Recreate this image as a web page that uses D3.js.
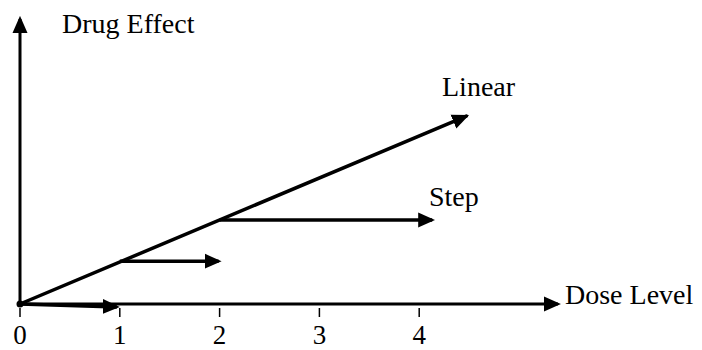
<!DOCTYPE html>
<html>
<head>
<meta charset="utf-8">
<script src="https://cdn.jsdelivr.net/npm/d3@7"></script>
<style>
  body { margin: 0; background: #fff; }
  svg text { font-family: 'Liberation Serif', 'Times New Roman', Times, serif; fill: #000; }
</style>
</head>
<body>
<svg width="702" height="350"></svg>
<script>
// Values (dose units on x, effect units on y)
var xTicks = [0, 1, 2, 3, 4];
var linearDose = [0, 4.5];
var linearEffect = [0, 4.5];
var stepStart = [0, 1, 2];
var stepEnd = [1, 2.02, 4.16];
var stepLevel = [0, 1.02, 2];
var stepEndLevel = [-0.07, 1.02, 2];
var xAxisEnd = 5.42;
var yAxisEnd = 6.86;

var svg = d3.select('svg');
var serif = "'Liberation Serif', 'Times New Roman', Times, serif";

var x = d3.scaleLinear().domain([0, 5]).range([20, 519]);
var y = d3.scaleLinear().domain([0, 5]).range([304, 94]);

// arrowhead marker, tip sticks out a few px past the line end
var defs = svg.append('defs');
defs.append('marker')
    .attr('id', 'arrow')
    .attr('viewBox', '0 -8 17 16')
    .attr('refX', 14)
    .attr('refY', 0)
    .attr('markerWidth', 17)
    .attr('markerHeight', 16)
    .attr('markerUnits', 'userSpaceOnUse')
    .attr('orient', 'auto')
  .append('path')
    .attr('d', 'M0,-7.5L17,0L0,7.5Z')
    .attr('fill', '#000');

var tip = 3; // px the arrow tip extends past the line end

// axes
svg.append('line')
    .attr('x1', x(0)).attr('y1', y(0))
    .attr('x2', x(0)).attr('y2', y(yAxisEnd) + tip)
    .attr('stroke', '#000').attr('stroke-width', 3)
    .attr('marker-end', 'url(#arrow)');

svg.append('line')
    .attr('x1', x(0)).attr('y1', y(0))
    .attr('x2', x(xAxisEnd) - tip).attr('y2', y(0))
    .attr('stroke', '#000').attr('stroke-width', 3)
    .attr('marker-end', 'url(#arrow)');

// tick marks + labels
svg.selectAll('.tick')
    .data(xTicks)
  .enter().append('line')
    .attr('class', 'tick')
    .attr('x1', function(d) { return x(d); })
    .attr('x2', function(d) { return x(d); })
    .attr('y1', y(0) + 4)
    .attr('y2', y(0) + 13)
    .attr('stroke', '#000').attr('stroke-width', 1.5);

svg.selectAll('.tick-label')
    .data(xTicks)
  .enter().append('text')
    .attr('class', 'tick-label')
    .attr('x', function(d) { return x(d); })
    .attr('y', 344)
    .attr('text-anchor', 'middle')
    .attr('font-family', serif)
    .style('font-size', '27px')
    .text(function(d) { return d; });

// linear dose-effect line
var dx = x(linearDose[1]) - x(linearDose[0]);
var dy = y(linearEffect[1]) - y(linearEffect[0]);
var len = Math.sqrt(dx * dx + dy * dy);
svg.append('line')
    .attr('x1', x(linearDose[0])).attr('y1', y(linearEffect[0]))
    .attr('x2', x(linearDose[1]) - tip * dx / len)
    .attr('y2', y(linearEffect[1]) - tip * dy / len)
    .attr('stroke', '#000').attr('stroke-width', 3.5)
    .attr('stroke-linecap', 'round')
    .attr('marker-end', 'url(#arrow)');

// step arrows
svg.selectAll('.step')
    .data(stepStart)
  .enter().append('line')
    .attr('class', 'step')
    .attr('x1', function(d) { return x(d); })
    .attr('y1', function(d, i) { return y(stepLevel[i]); })
    .attr('x2', function(d, i) { return x(stepEnd[i]) - tip; })
    .attr('y2', function(d, i) { return y(stepEndLevel[i]); })
    .attr('stroke', '#000').attr('stroke-width', 3.5)
    .attr('marker-end', 'url(#arrow)');

svg.append('circle')
    .attr('cx', x(0)).attr('cy', y(0)).attr('r', 3.5)
    .attr('fill', '#000');

// labels
var labels = [
  {t: 'Drug Effect', x: 62, y: 33},
  {t: 'Linear', x: 442, y: 96},
  {t: 'Step', x: 429, y: 206},
  {t: 'Dose Level', x: 565, y: 304}
];
svg.selectAll('.lbl')
    .data(labels)
  .enter().append('text')
    .attr('class', 'lbl')
    .attr('x', function(d) { return d.x; })
    .attr('y', function(d) { return d.y; })
    .attr('font-family', serif)
    .style('font-size', '28px')
    .text(function(d) { return d.t; });
</script>
</body>
</html>
